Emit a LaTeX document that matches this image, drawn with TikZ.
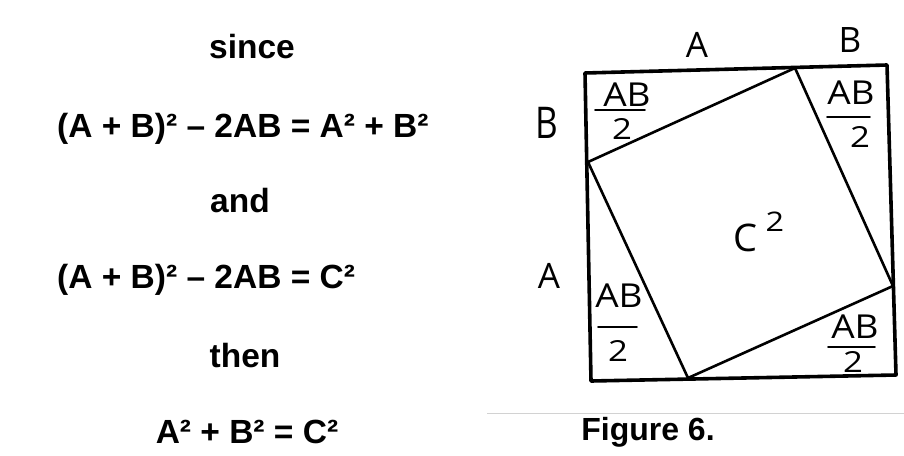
\documentclass[tikz,border=0pt]{standalone}
\usepackage{fontspec}
\setmainfont{Liberation Sans}
\newfontfamily\hand{Open Sans}
\begin{document}
\begin{tikzpicture}[x=1pt,y=-1pt,
  eq/.style={font=\fontsize{33.5}{38}\selectfont\bfseries, inner sep=0pt, anchor=base},
  hnd/.style={font=\hand\fontsize{35}{40}\selectfont, inner sep=0pt},
  hab/.style={font=\hand\fontsize{33}{38}\selectfont, inner sep=0pt, xscale=1.12},
  htwo/.style={font=\hand\fontsize{29}{33}\selectfont, inner sep=0pt, xscale=1.2},
  outer/.style={line width=3.6pt, line join=round, line cap=round},
  innr/.style={line width=2.6pt, line join=round, line cap=round},
  fracline/.style={line width=1.8pt, line cap=round}]
\useasboundingbox (0,0) rectangle (904,455);
% scan edge
\draw[gray!35, line width=1pt] (487,413) -- (904,413);
% left text
\node[eq] (since) at (252,58) {since};
\node[eq, anchor=base west] (l2) at (57,137) {(A + B)² – 2AB = A² + B²};
\node[eq] (and) at (240,212) {and};
\node[eq, anchor=base west] (l4) at (57,288) {(A + B)² – 2AB = C²};
\node[eq] (then) at (245,367) {then};
\node[eq] (l6) at (247,443) {A² + B² = C²};
\node[eq, font=\fontsize{32}{36}\selectfont\bfseries] (fig) at (648,440) {Figure 6.};
% squares
\coordinate (TL) at (585,73);
\coordinate (TR) at (887,65);
\coordinate (BR) at (896,375);
\coordinate (BL) at (591,381);
\coordinate (P1) at (795,68);
\coordinate (P2) at (588,162);
\coordinate (P3) at (688,378);
\coordinate (P4) at (893,286);
\draw[outer] (TL) -- (TR) -- (BR) -- (BL) -- cycle;
\draw[innr] (P1) -- (P2) -- (P3) -- (P4) -- cycle;
% side labels
\node[hnd] (topA) at (697,45) {A};
\node[hnd] (topB) at (850,40) {B};
\node[hnd, yscale=1.25] (leftB) at (547,123) {B};
\node[hnd] (leftA) at (549,276) {A};
\node[hnd, font=\hand\fontsize{38}{42}\selectfont] (C) at (745,238) {C};
\node[htwo, font=\hand\fontsize{27}{31}\selectfont] (Csup) at (775,222) {2};
% fractions: name, ABx, ABy, 2x, 2y, line x1, x2, line y
\newcommand\abfrac[8]{%
  \node[hab] (#1ab) at (#2,#3) {AB};
  \node[htwo] (#1two) at (#4,#5) {2};
  \coordinate (#1l) at (#6,#8);
  \coordinate (#1r) at (#7,#8);
  \draw[fracline] (#1l) -- (#1r);}
\abfrac{ftl}{627}{95}{622}{129}{595}{645}{110}
\abfrac{ftr}{851}{93}{860}{137}{827}{870}{117}
\abfrac{fbl}{619}{296}{618}{351}{598}{637}{327}
\abfrac{fbr}{855}{327}{853}{362}{828}{875}{347}
\end{tikzpicture}
\end{document}
